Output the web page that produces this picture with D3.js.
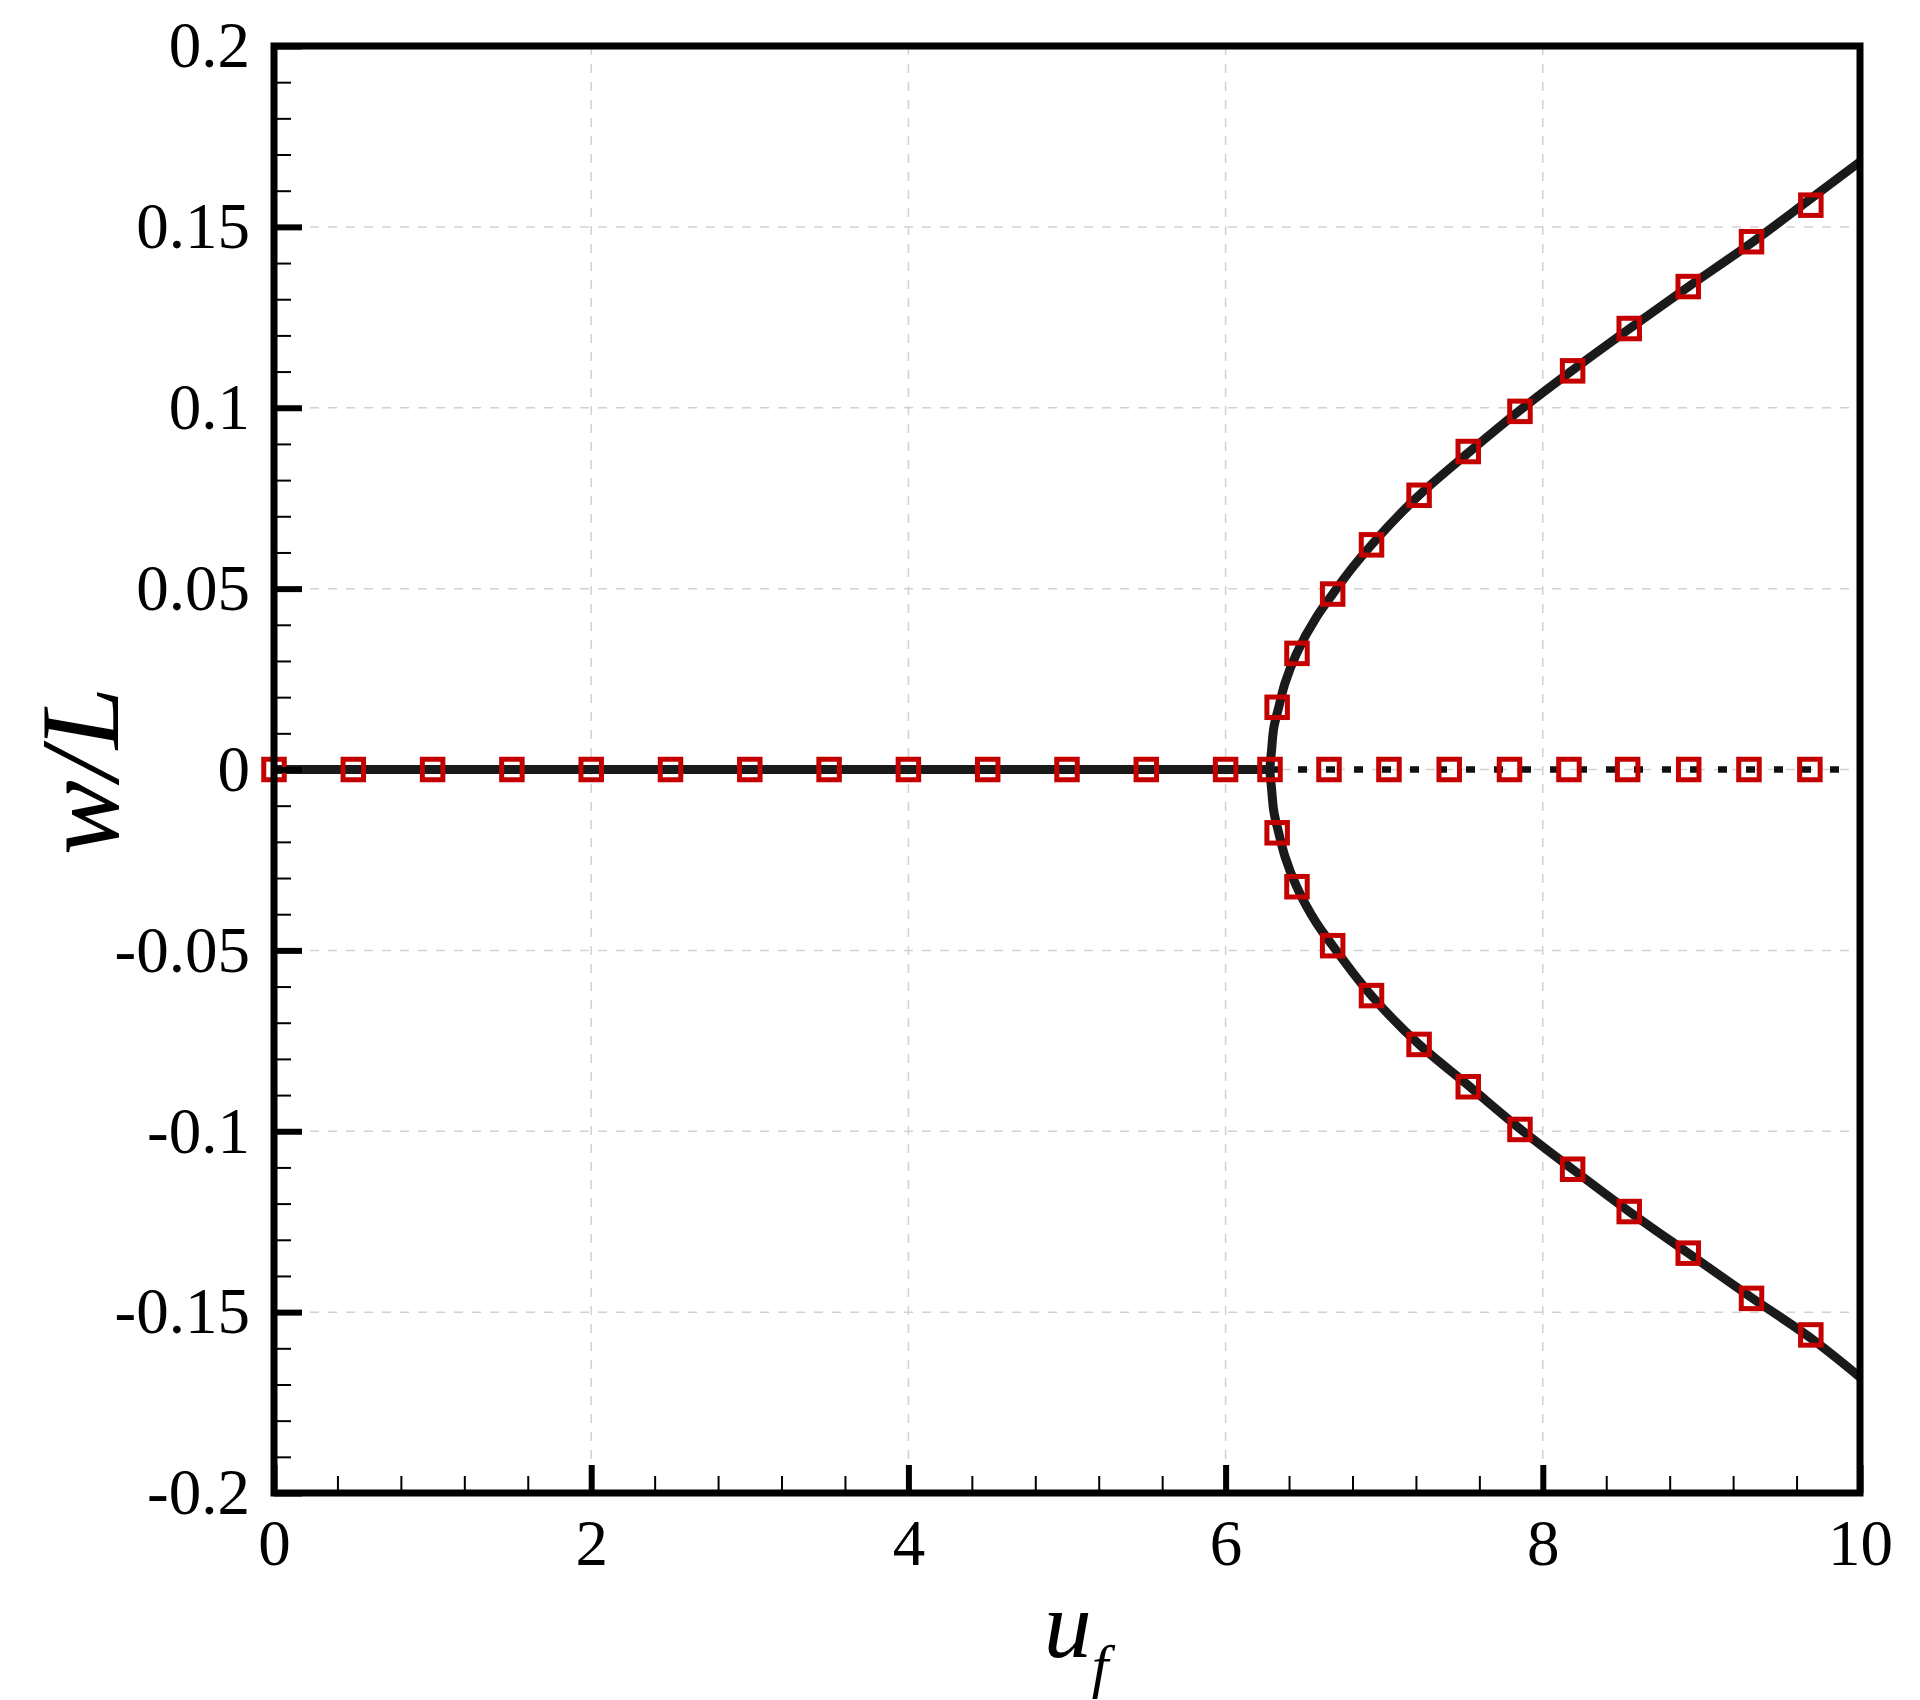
<!DOCTYPE html>
<html><head><meta charset="utf-8">
<script src="https://cdn.jsdelivr.net/npm/d3@7"></script>
<style>body{margin:0;background:#fff}svg{display:block}</style>
</head><body>
<svg id="chart" width="1920" height="1700"></svg>
<script>
// ---- data ----
const xDomain = [0, 10];
const yDomain = [-0.2, 0.2];
const xMajorTicks = [0, 2, 4, 6, 8, 10];
const yMajorTicks = [-0.2, -0.15, -0.1, -0.05, 0, 0.05, 0.1, 0.15, 0.2];
const xTickLabels = ["0", "2", "4", "6", "8", "10"];
const yTickLabels = ["-0.2", "-0.15", "-0.1", "-0.05", "0", "0.05", "0.1", "0.15", "0.2"];
const xGrid = [2, 4, 6, 8];
const yGrid = [-0.15, -0.1, -0.05, 0, 0.05, 0.1, 0.15];

// stable trivial branch (solid) and unstable trivial branch (dotted)
const stableU = [0, 6.28];
const stableW = [0, 0];
const unstableU = [6.28, 10];
const unstableW = [0, 0];

// buckled branches (solid)
const upperU = [6.28, 6.29, 6.305, 6.335, 6.374, 6.448, 6.574, 6.675, 6.805, 6.92, 7.22, 7.54, 7.856, 8.188, 8.545, 8.917, 9.316, 9.69, 10.0];
const upperW = [0, 0.0054, 0.0118, 0.0172, 0.0238, 0.0321, 0.0422, 0.0485, 0.0561, 0.0621, 0.0758, 0.0879, 0.0993, 0.1104, 0.1218, 0.1334, 0.1456, 0.1578, 0.168];
const lowerU = [6.28, 6.29, 6.305, 6.335, 6.374, 6.448, 6.574, 6.675, 6.805, 6.92, 7.22, 7.54, 7.856, 8.188, 8.545, 8.917, 9.316, 9.69, 10.0];
const lowerW = [0, -0.0054, -0.0118, -0.0175, -0.0240, -0.0324, -0.0425, -0.0487, -0.0563, -0.0625, -0.0760, -0.0877, -0.0993, -0.1105, -0.1222, -0.1337, -0.1460, -0.1572, -0.168];

// square markers
const stableMarkU = [0, 0.5, 1, 1.5, 2, 2.5, 3, 3.5, 4, 4.5, 5, 5.5, 6, 6.28];
const stableMarkW = [0, 0, 0, 0, 0, 0, 0, 0, 0, 0, 0, 0, 0, 0];
const unstableMarkU = [6.652, 7.03, 7.41, 7.79, 8.165, 8.535, 8.92, 9.30, 9.684];
const unstableMarkW = [0, 0, 0, 0, 0, 0, 0, 0, 0];
const upperMarkU = [6.325, 6.45, 6.675, 6.92, 7.22, 7.53, 7.856, 8.188, 8.545, 8.917, 9.316, 9.69];
const upperMarkW = [0.0172, 0.0321, 0.0485, 0.0621, 0.0758, 0.0879, 0.0990, 0.1102, 0.1219, 0.1335, 0.1459, 0.1560];
const lowerMarkU = [6.325, 6.45, 6.675, 6.92, 7.22, 7.53, 7.856, 8.188, 8.545, 8.917, 9.316, 9.69];
const lowerMarkW = [-0.0175, -0.0324, -0.0487, -0.0625, -0.0760, -0.0877, -0.0995, -0.1105, -0.1222, -0.1337, -0.1462, -0.1563];

// ---- layout ----
const L = 274, R = 1860, T = 46, B = 1493;
const FONT = '"Liberation Serif", "Times New Roman", Times, serif';
const svg = d3.select("#chart");
svg.append("rect").attr("width", 1920).attr("height", 1700).attr("fill", "#fff");

const x = d3.scaleLinear().domain(xDomain).range([L, R]);
const y = d3.scaleLinear().domain(yDomain).range([B, T]);

// grid
const grid = svg.append("g").attr("stroke", "#d2d2d2").attr("stroke-width", 1.5).attr("stroke-dasharray", "9,9");
grid.selectAll("line.gx").data(xGrid).join("line").attr("class", "gx")
  .attr("x1", d => x(d)).attr("x2", d => x(d)).attr("y1", T).attr("y2", B);
grid.selectAll("line.gy").data(yGrid).join("line").attr("class", "gy")
  .attr("x1", L).attr("x2", R).attr("y1", d => y(d)).attr("y2", d => y(d));

const zip = (a, b) => a.map((v, i) => [v, b[i]]);
const line = d3.line().x(d => x(d[0])).y(d => y(d[1]));

// trivial branches
svg.append("path").datum(zip(stableU, stableW)).attr("d", line)
  .attr("fill", "none").attr("stroke", "#1a1a1a").attr("stroke-width", 9);
svg.append("path").datum(zip(unstableU, unstableW)).attr("d", line)
  .attr("fill", "none").attr("stroke", "#111").attr("stroke-width", 6.5).attr("stroke-dasharray", "9,19");

// buckled branch: lower reversed + upper, monotone in w
const buckled = zip(lowerU, lowerW).slice(1).reverse().concat(zip(upperU, upperW));
const curveLine = d3.line().x(d => x(d[0])).y(d => y(d[1])).curve(d3.curveMonotoneY);
svg.append("path").datum(buckled).attr("d", curveLine)
  .attr("fill", "none").attr("stroke", "#1a1a1a").attr("stroke-width", 9);

// markers
const S = 20.5;
const marks = [].concat(zip(stableMarkU, stableMarkW), zip(unstableMarkU, unstableMarkW),
  zip(upperMarkU, upperMarkW), zip(lowerMarkU, lowerMarkW));
svg.append("g").selectAll("rect").data(marks).join("rect")
  .attr("x", d => x(d[0]) - S / 2).attr("y", d => y(d[1]) - S / 2)
  .attr("width", S).attr("height", S)
  .attr("fill", "none").attr("stroke", "#c40000").attr("stroke-width", 5);

// axes
const xMinor = d3.range(0, 10.0001, 0.4).map(v => +v.toFixed(2)).filter(v => Math.abs(v / 2 - Math.round(v / 2)) > 1e-6);
const yMinor = d3.range(-0.2, 0.2001, 0.01).map(v => +v.toFixed(3)).filter(v => Math.abs(v / 0.05 - Math.round(v / 0.05)) > 1e-6);

function styleAxis(g, w) {
  g.select(".domain").remove();
  g.selectAll(".tick line").attr("stroke", "#000").attr("stroke-width", w);
  g.selectAll(".tick text").attr("fill", "#000").style("font-family", FONT).style("font-size", "65px");
}

svg.append("g").attr("transform", `translate(0,${B})`)
  .call(d3.axisBottom(x).tickValues(xMinor).tickSize(-17).tickFormat(""))
  .call(g => styleAxis(g, 2));
svg.append("g").attr("transform", `translate(${L},0)`)
  .call(d3.axisLeft(y).tickValues(yMinor).tickSize(-17).tickFormat(""))
  .call(g => styleAxis(g, 2));
svg.append("g").attr("transform", `translate(0,${B})`)
  .call(d3.axisBottom(x).tickValues(xMajorTicks).tickSize(-28).tickPadding(26)
    .tickFormat((d, i) => xTickLabels[i]))
  .call(g => styleAxis(g, 6));
svg.append("g").attr("transform", `translate(${L},0)`)
  .call(d3.axisLeft(y).tickValues(yMajorTicks).tickSize(-28).tickPadding(24)
    .tickFormat((d, i) => yTickLabels[i]))
  .call(g => styleAxis(g, 6));

// frame
svg.append("rect").attr("x", L).attr("y", T).attr("width", R - L).attr("height", B - T)
  .attr("fill", "none").attr("stroke", "#000").attr("stroke-width", 7);

// axis titles
svg.append("text").attr("transform", `translate(118,771) rotate(-90)`)
  .attr("text-anchor", "middle").style("font-family", FONT).style("font-style", "italic")
  .style("font-size", "112px").attr("fill", "#000").text("w/L");

const xl = svg.append("text").attr("x", 1076).attr("y", 1657).attr("text-anchor", "middle")
  .style("font-family", FONT).style("font-style", "italic").attr("fill", "#000");
xl.append("tspan").style("font-size", "96px").text("u");
xl.append("tspan").style("font-size", "60px").attr("dy", 29).text("f");
</script>
</body></html>
